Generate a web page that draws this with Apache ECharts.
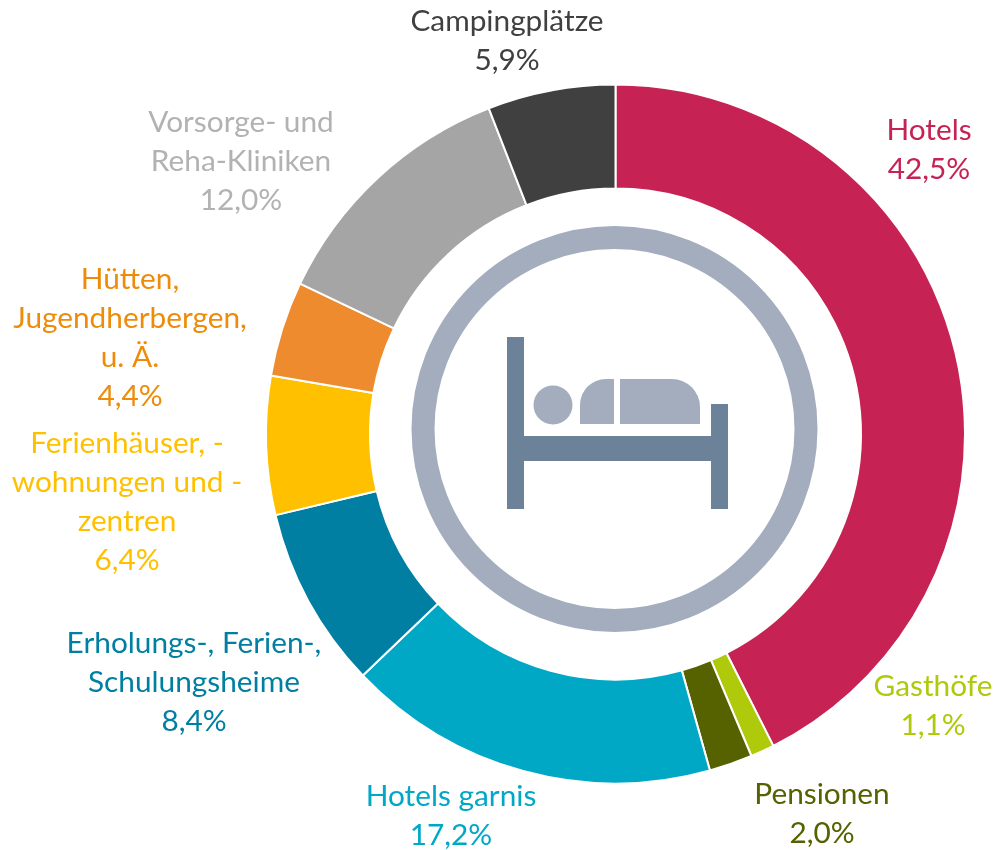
<!DOCTYPE html>
<html>
<head>
<meta charset="utf-8">
<style>html,body{margin:0;padding:0;background:#fff}#c{width:996px;height:850px}</style>
<script src="https://cdn.jsdelivr.net/npm/echarts@6/dist/echarts.min.js"></script>
</head>
<body>
<div id="c"></div>
<script>
const categories = ["Hotels","Gasthöfe","Pensionen","Hotels garnis","Erholungs-, Ferien-,\nSchulungsheime","Ferienhäuser, -\nwohnungen und -\nzentren","Hütten,\nJugendherbergen,\nu. Ä.","Vorsorge- und\nReha-Kliniken","Campingplätze"];
const values = [42.5,1.1,2.0,17.2,8.4,6.4,4.4,12.0,5.9];
const sliceColors = ["#C62254","#AFCA0B","#566100","#00A8C6","#007FA3","#FFC000","#ED8B2E","#A5A5A5","#404040"];
const labelColors = ["#C62254","#AFCA0B","#566100","#00A8C6","#007FA3","#FFC000","#EE8C0A","#B2B2B2","#404040"];
const labelAnchors = [[929,150],[933,706],[822,814],[451,816],[194,682],[127,502],[130,338],[241,161],[507,41]];

const chart = echarts.init(document.getElementById('c'), null, {renderer:'canvas'});
const ring = '#A3ADBD', bed = '#6B8299';
chart.setOption({
  backgroundColor:'#fff',
  animation:false,
  series:[{
    type:'pie',
    center:[615.5,434],
    radius:[245.5,349.5],
    startAngle:90,
    clockwise:true,
    silent:true,
    data:categories.map((c,i)=>({
      name:c,value:values[i],
      itemStyle:{color:sliceColors[i]},
      label:{color:labelColors[i]}
    })),
    itemStyle:{borderColor:'#fff',borderWidth:2},
    label:{
      show:true,
      fontFamily:'Lato, "Open Sans", sans-serif',
      fontSize:29.8,
      lineHeight:39,
      align:'center',
      overflow:'none',
      formatter:p=>p.name+'\n'+p.value.toFixed(1).replace('.',',')+'%'
    },
    labelLine:{show:false},
    labelLayout:p=>({x:labelAnchors[p.dataIndex][0],y:labelAnchors[p.dataIndex][1],align:'center',verticalAlign:'middle'})
  }],
  graphic:[
    {type:'circle',shape:{cx:614.5,cy:429,r:191.5},style:{fill:'none',stroke:ring,lineWidth:23}},
    {type:'rect',shape:{x:507,y:337,width:17,height:172},style:{fill:bed}},
    {type:'rect',shape:{x:711,y:404,width:17,height:105},style:{fill:bed}},
    {type:'rect',shape:{x:507,y:436,width:221,height:25},style:{fill:bed}},
    {type:'circle',shape:{cx:553,cy:405,r:19.5},style:{fill:ring}},
    {type:'rect',shape:{x:580,y:379,width:34,height:45,r:[26,0,0,0]},style:{fill:ring}},
    {type:'rect',shape:{x:620,y:379,width:80,height:45,r:[0,28,0,0]},style:{fill:ring}}
  ]
});
</script>
</body>
</html>
